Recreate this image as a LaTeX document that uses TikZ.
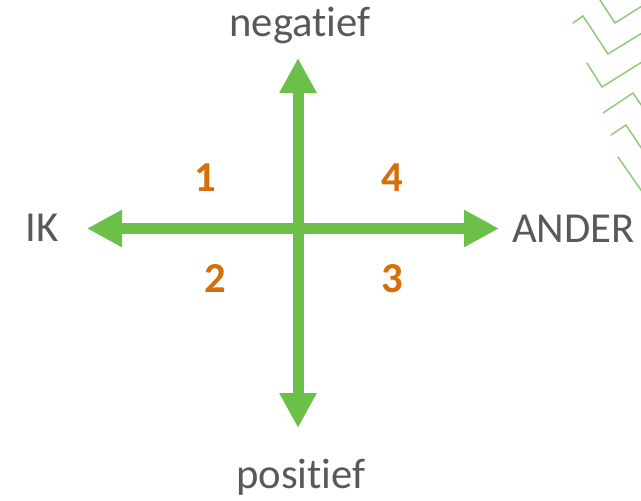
\documentclass[tikz,border=0pt]{standalone}
\usepackage{fontspec}
\setmainfont[Ligatures={NoCommon,NoRare}]{Carlito}
\usetikzlibrary{arrows.meta}
\definecolor{axisgreen}{HTML}{6CC04A}
\definecolor{decogreen}{HTML}{8CCB78}
\definecolor{quadorange}{HTML}{D46F0A}
\definecolor{labelgray}{HTML}{595959}
\tikzset{
  axis/.style={draw=axisgreen, line width=11pt, line cap=butt,
    {Triangle[length=35pt,width=35pt]}-{Triangle[length=35pt,width=35pt]}},
  axislabel/.style={text=labelgray, font=\fontsize{42.7}{48}\selectfont, inner sep=0pt, anchor=base},
  quadnum/.style={text=quadorange, font=\fontsize{42.7}{48}\selectfont\bfseries, inner sep=0pt, anchor=base},
  chevron/.style={draw=decogreen, line width=1.5pt, line cap=round, line join=miter}
}
\begin{document}
\begin{tikzpicture}[x=1pt,y=-1pt]
  \useasboundingbox (0,0) rectangle (641,501);

  % decorative chevrons in the upper right corner
  \begin{scope}
    \clip (0,0) rectangle (641,501);
    \draw[chevron] (600,0) -- (615,23) -- (650,1);
    \draw[chevron] (573,23) -- (583,16) -- (608,54) -- (650,28);
    \draw[chevron] (587,63) -- (602,87) -- (650,57);
    \draw[chevron] (603,113) -- (633,93) -- (650,118);
    \draw[chevron] (611,135) -- (626,125) -- (650,161);
    \draw[chevron] (618,157) -- (650,203);
  \end{scope}

  % axis end points
  \coordinate (top) at (298,58);
  \coordinate (bottom) at (298,428);
  \coordinate (left) at (87,228.5);
  \coordinate (right) at (499,228.5);

  % the two double-headed axes
  \draw[axis] (bottom) -- (top);
  \draw[axis] (left) -- (right);

  % axis labels
  \node[axislabel] (neg) at (300,36) {negatief};
  \node[axislabel] (pos) at (301,488) {positief};
  \node[axislabel] (ik) at (42,241) {IK};
  \node[axislabel, anchor=base west] (ander) at (512,242) {ANDER};

  % quadrant numbers
  \node[quadnum] (q1) at (205,191) {1};
  \node[quadnum] (q4) at (392,191) {4};
  \node[quadnum] (q2) at (215,292) {2};
  \node[quadnum] (q3) at (392,292) {3};
\end{tikzpicture}
\end{document}
